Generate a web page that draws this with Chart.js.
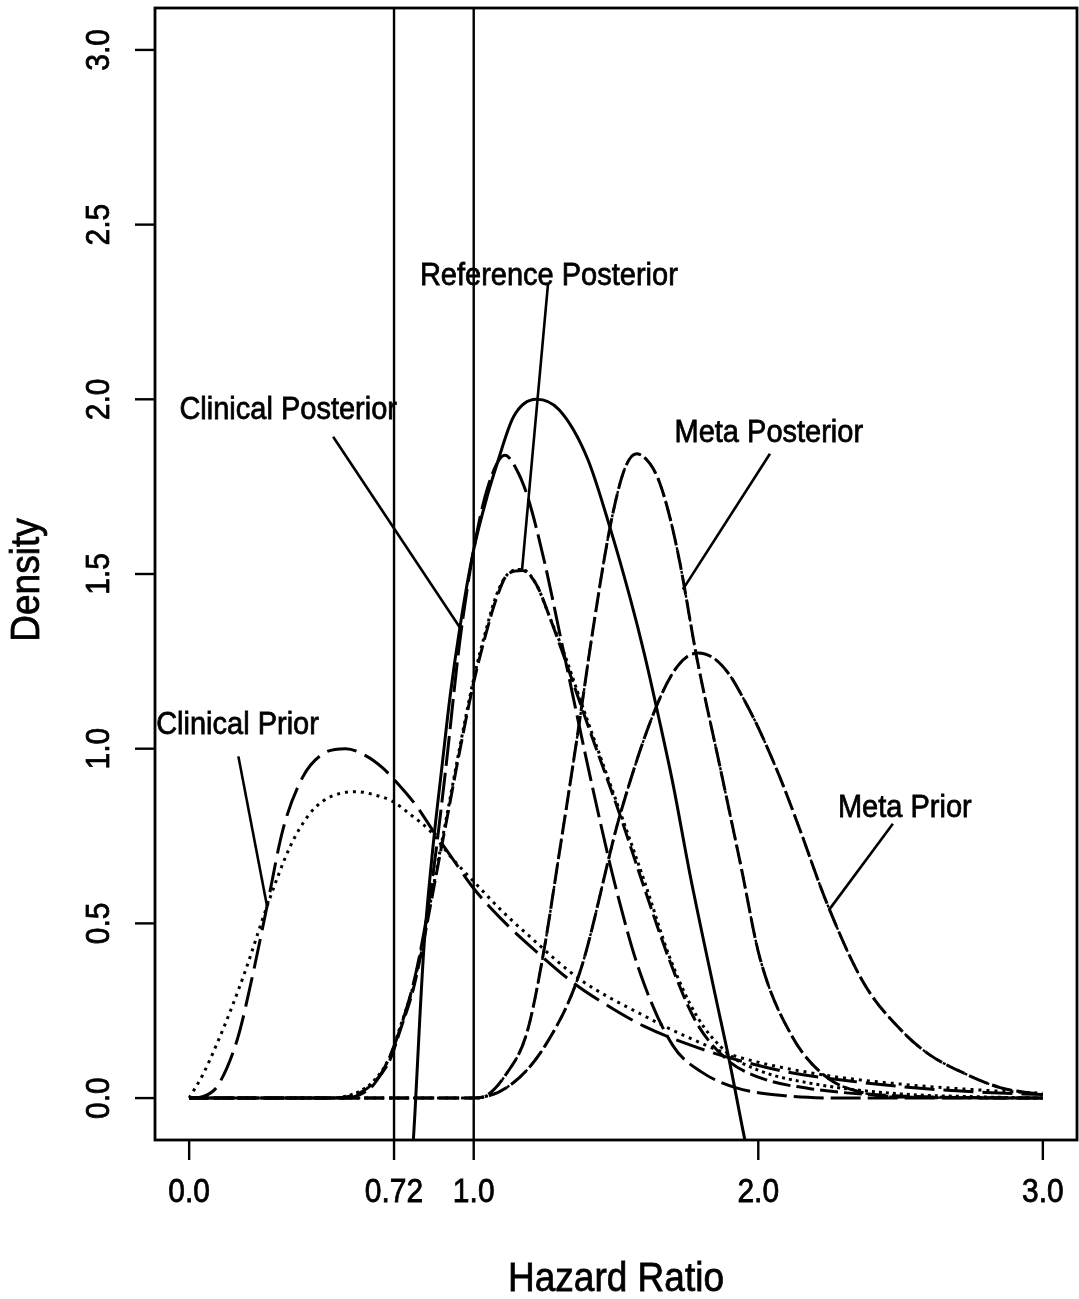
<!DOCTYPE html>
<html>
<head>
<meta charset="utf-8">
<title>Hazard Ratio densities</title>
<script src="https://cdn.jsdelivr.net/npm/chart.js@4.4.1/dist/chart.umd.min.js"></script>
<style>
  html, body { margin: 0; padding: 0; background: #fff; }
  #wrap { width: 1079px; height: 1299px; }
</style>
</head>
<body>
<div id="wrap"><canvas id="density" width="1079" height="1299"></canvas></div>
<script>
/* ---- axes ---------------------------------------------------------- */
const X_MIN = -0.12, X_MAX = 3.12;
const Y_MIN = -0.12, Y_MAX = 3.12;
const xTicks      = [0, 0.72, 1, 2, 3];
const xTickLabels = ['0.0', '0.72', '1.0', '2.0', '3.0'];
const yTicks      = [0, 0.5, 1, 1.5, 2, 2.5, 3];
const yTickLabels = ['0.0', '0.5', '1.0', '1.5', '2.0', '2.5', '3.0'];
const refLines    = [0.72, 1.0];

/* ---- density curves (hazard ratio -> density) ---------------------- */
// clinical prior, long dashes
const clinPriorX = [0, 0.05, 0.1, 0.17, 0.22, 0.274, 0.33, 0.4, 0.47, 0.55, 0.62, 0.68, 0.72, 0.8, 0.857,
                    0.93, 1.0, 1.1, 1.233, 1.35, 1.45, 1.6, 1.75, 1.9, 2.1, 2.35, 2.6, 2.8, 3.0];
const clinPriorA = [0, 0.005, 0.035, 0.17, 0.34, 0.55, 0.77, 0.92, 0.985, 1.0, 0.98, 0.945, 0.912, 0.835, 0.765,
                    0.68, 0.60, 0.51, 0.41, 0.33, 0.275, 0.205, 0.155, 0.115, 0.075, 0.046, 0.026, 0.016, 0.01];
// clinical prior, dotted
const clinPriorDotX = [0, 0.05, 0.1, 0.15, 0.2, 0.274, 0.355, 0.42, 0.47, 0.53, 0.59, 0.65, 0.713, 0.78, 0.846,
                       0.92, 1.0, 1.1, 1.2, 1.373, 1.6, 1.75, 1.9, 2.2, 2.5, 2.8, 3.0];
const clinPriorB    = [0, 0.07, 0.16, 0.26, 0.37, 0.55, 0.72, 0.81, 0.85, 0.872, 0.877, 0.868, 0.85, 0.81, 0.765,
                       0.69, 0.62, 0.535, 0.46, 0.34, 0.235, 0.175, 0.125, 0.07, 0.04, 0.022, 0.014];
// clinical posterior
const clinPostX = [0, 0.55, 0.6, 0.65, 0.7, 0.75, 0.8, 0.85, 0.9, 0.95, 1.0, 1.05, 1.11, 1.15, 1.19, 1.25,
                   1.31, 1.42, 1.5, 1.584, 1.7, 1.8, 1.92, 2.1, 2.3, 3.0];
const clinPost  = [0, 0, 0.01, 0.04, 0.11, 0.22, 0.37, 0.6, 0.93, 1.3, 1.57, 1.75, 1.84, 1.80, 1.72, 1.53,
                   1.30, 0.88, 0.6, 0.36, 0.15, 0.075, 0.03, 0.006, 0, 0];
// reference posterior (dotted and dashed versions)
const refPostX   = [0, 0.5, 0.55, 0.6, 0.65, 0.706, 0.74, 0.787, 0.822, 0.85, 0.88, 0.906, 0.95, 1.0, 1.04,
                    1.08, 1.12, 1.17, 1.22, 1.27, 1.31, 1.4, 1.514, 1.6, 1.69, 1.78, 1.89, 2.0, 2.2, 2.5, 2.8, 3.0];
const refPostDot = [0, 0, 0.005, 0.02, 0.05, 0.12, 0.2, 0.32, 0.45, 0.57, 0.70, 0.81, 1.0, 1.2, 1.33,
                    1.44, 1.5, 1.513, 1.47, 1.37, 1.29, 1.08, 0.82, 0.62, 0.40, 0.24, 0.13, 0.08, 0.04, 0.012, 0.003, 0];
const refPostDash = [0, 0, 0.003, 0.015, 0.045, 0.11, 0.19, 0.31, 0.44, 0.56, 0.69, 0.80, 0.99, 1.19, 1.32,
                     1.43, 1.5, 1.51, 1.47, 1.37, 1.28, 1.07, 0.81, 0.6, 0.39, 0.22, 0.11, 0.06, 0.025, 0.006, 0.001, 0];
// normal approximation, solid (runs below zero)
const approxX = [0.775, 0.794, 0.81, 0.825, 0.857, 0.89, 0.917, 0.952, 1.0, 1.05, 1.08, 1.14, 1.22, 1.3,
                 1.4, 1.48, 1.55, 1.6, 1.65, 1.7, 1.76, 1.85, 1.9, 1.953, 1.98];
const approxY = [-0.3, -0.035, 0.22, 0.43, 0.72, 0.96, 1.15, 1.35, 1.57, 1.73, 1.81, 1.95, 2.0, 1.97,
                 1.83, 1.63, 1.43, 1.27, 1.09, 0.9, 0.64, 0.29, 0.1, -0.12, -0.22];
// meta posterior
const metaPostX = [0, 1.0, 1.033, 1.117, 1.187, 1.243, 1.303, 1.363, 1.42, 1.479, 1.53, 1.573, 1.62, 1.654,
                   1.69, 1.725, 1.784, 1.865, 1.94, 2.006, 2.12, 2.24, 2.37, 2.5, 3.0];
const metaPost  = [0, 0, 0.003, 0.072, 0.187, 0.405, 0.713, 1.03, 1.346, 1.634, 1.80, 1.844, 1.815, 1.76,
                   1.66, 1.53, 1.26, 0.95, 0.66, 0.40, 0.175, 0.06, 0.015, 0.003, 0];
// meta prior
const metaPriorX = [0, 1.0, 1.138, 1.257, 1.373, 1.514, 1.644, 1.72, 1.79, 1.85, 1.9, 1.95, 2.0, 2.08,
                    2.15, 2.24, 2.37, 2.5, 2.6, 2.7, 2.85, 3.0];
const metaPrior  = [0, 0, 0.043, 0.158, 0.36, 0.81, 1.125, 1.24, 1.274, 1.255, 1.21, 1.14, 1.06, 0.91,
                    0.76, 0.56, 0.33, 0.196, 0.125, 0.08, 0.03, 0.01];

/* ---- curve labels: text position and pointer (data units) ---------- */
const curveLabels = [
  { text: 'Clinical Prior',      at: [0.17, 1.079],  from: [0.173, 0.978], to: [0.274, 0.548] },
  { text: 'Clinical Posterior',  at: [0.348, 1.979], from: [0.506, 1.893], to: [0.952, 1.346] },
  { text: 'Reference Posterior', at: [1.264, 2.362], from: [1.261, 2.33],  to: [1.17, 1.513] },
  { text: 'Meta Posterior',      at: [2.037, 1.913], from: [2.041, 1.844], to: [1.735, 1.456] },
  { text: 'Meta Prior',          at: [2.515, 0.84],  from: [2.473, 0.785], to: [2.248, 0.538] },
];

const zip = (xs, ys) => xs.map((x, i) => ({ x, y: ys[i] }));

function curve(xs, ys, dash, width = 3) {
  return {
    data: zip(xs, ys),
    showLine: true,
    borderColor: '#000',
    borderWidth: width,
    borderDash: dash,
    borderCapStyle: 'butt',
    pointRadius: 0,
    cubicInterpolationMode: 'monotone',
  };
}

const datasets = [
  curve(clinPriorX, clinPriorA, [30, 9]),
  curve(clinPriorDotX, clinPriorB, [3, 5]),
  curve(clinPostX, clinPost, [30, 7]),
  curve(refPostX, refPostDash, [18, 6]),
  curve(refPostX, refPostDot, [3, 4]),
  curve(approxX, approxY, []),
  curve(metaPostX, metaPost, [20, 5]),
  curve(metaPostX, metaPost, [3, 5], 2.4),
  curve(metaPriorX, metaPrior, [20, 5]),
  curve(metaPriorX, metaPrior, [3, 5], 2.4),
  // vertical reference lines at 0.72 and 1.0
  ...refLines.map(v => ({
    data: [{ x: v, y: Y_MIN }, { x: v, y: Y_MAX }],
    showLine: true, borderColor: '#000', borderWidth: 2.4, pointRadius: 0, tension: 0,
  })),
];

const FONT = '"Liberation Sans", Arial, Helvetica, sans-serif';

// text with a slight vertical stretch and a thin outline to thicken strokes
function drawText(ctx, str, px, py, size, rot = 0, stretch = 1.1) {
  ctx.save();
  ctx.translate(px, py);
  ctx.rotate(rot);
  ctx.scale(1, stretch);
  ctx.font = size + 'px ' + FONT;
  ctx.lineWidth = 0.7;
  ctx.fillText(str, 0, 0);
  ctx.strokeText(str, 0, 0);
  ctx.restore();
}

// frame, ticks, axis titles and curve labels
const decorations = {
  id: 'decorations',
  afterDatasetsDraw(chart) {
    const { ctx, chartArea: a, scales: { x, y } } = chart;
    ctx.save();
    ctx.strokeStyle = '#000';
    ctx.fillStyle = '#000';
    ctx.textAlign = 'center';
    ctx.textBaseline = 'middle';

    ctx.lineWidth = 2.8;
    ctx.strokeRect(a.left, a.top, a.right - a.left, a.bottom - a.top);

    const seg = (x1, y1, x2, y2) => {
      ctx.beginPath(); ctx.moveTo(x1, y1); ctx.lineTo(x2, y2); ctx.stroke();
    };

    xTicks.forEach((v, i) => {
      const px = x.getPixelForValue(v);
      ctx.lineWidth = 2.4;
      seg(px, a.bottom, px, a.bottom + 20);
      drawText(ctx, xTickLabels[i], px, a.bottom + 53, 30);
    });

    yTicks.forEach((v, i) => {
      const py = y.getPixelForValue(v);
      ctx.lineWidth = 2.4;
      seg(a.left - 20, py, a.left, py);
      drawText(ctx, yTickLabels[i], a.left - 55, py, 30, -Math.PI / 2);
    });

    drawText(ctx, 'Hazard Ratio', (a.left + a.right) / 2, 1280, 37);
    drawText(ctx, 'Density', 28, (a.top + a.bottom) / 2 + 6, 37, -Math.PI / 2);

    curveLabels.forEach(l => {
      ctx.lineWidth = 2.6;
      seg(x.getPixelForValue(l.from[0]), y.getPixelForValue(l.from[1]),
          x.getPixelForValue(l.to[0]), y.getPixelForValue(l.to[1]));
      drawText(ctx, l.text, x.getPixelForValue(l.at[0]), y.getPixelForValue(l.at[1]) + 4, 29, 0, 1.08);
    });
    ctx.restore();
  },
};

new Chart(document.getElementById('density'), {
  type: 'scatter',
  data: { datasets },
  options: {
    responsive: false,
    devicePixelRatio: 1,
    animation: false,
    layout: { padding: { left: 155, right: 2, top: 8, bottom: 159 } },
    plugins: { legend: { display: false }, tooltip: { enabled: false } },
    scales: {
      x: { type: 'linear', min: X_MIN, max: X_MAX, display: false },
      y: { type: 'linear', min: Y_MIN, max: Y_MAX, display: false },
    },
  },
  plugins: [decorations],
});
</script>
</body>
</html>
